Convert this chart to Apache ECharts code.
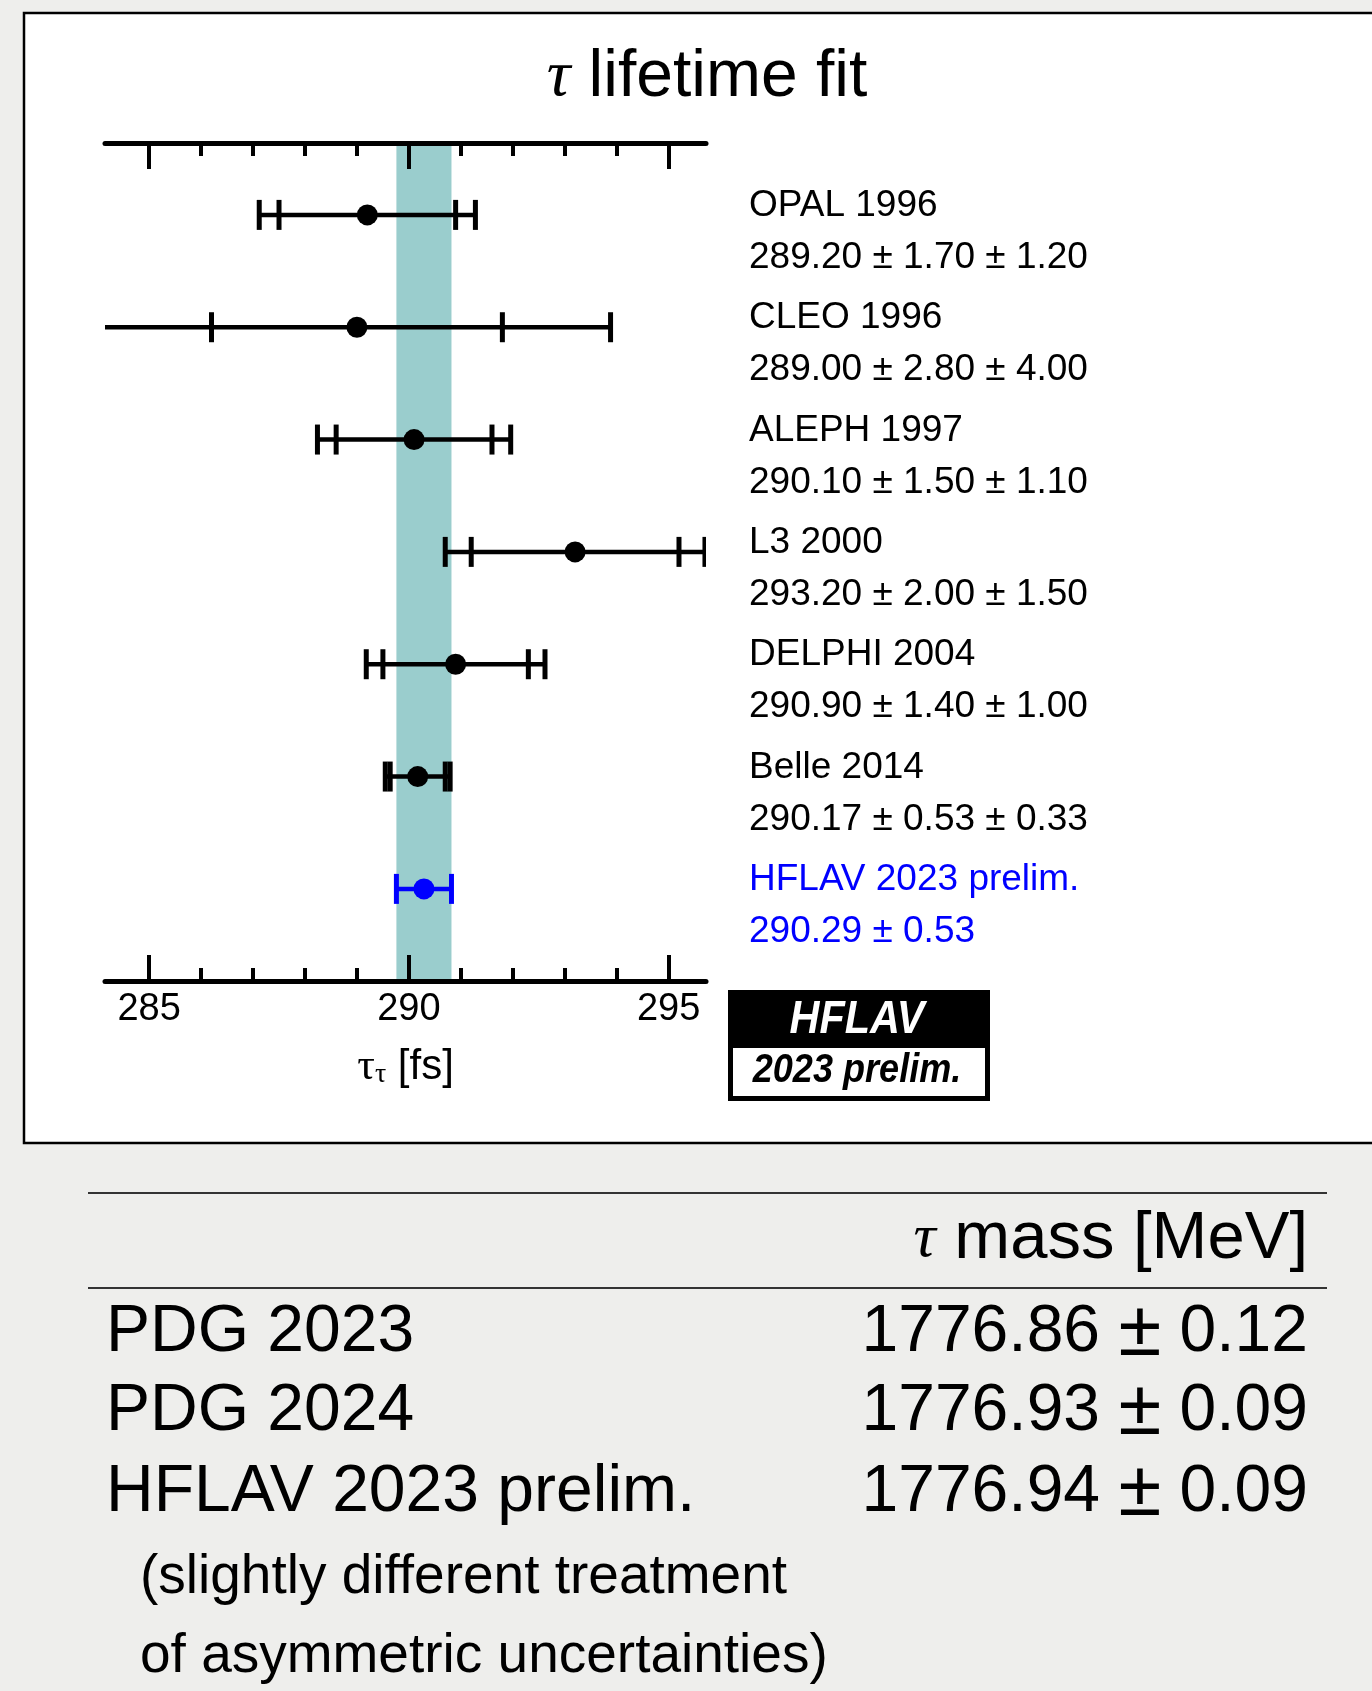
<!DOCTYPE html>
<html>
<head>
<meta charset="utf-8">
<script src="https://cdn.jsdelivr.net/npm/echarts@6/dist/echarts.min.js"></script>
<style>
  html, body { margin: 0; padding: 0; background: #eeeeec; }
  #chartmain { width: 1372px; height: 1691px; }
</style>
</head>
<body>
<div id="chartmain"></div>
<script>
// measurements (fs)
var experiments = ['OPAL 1996', 'CLEO 1996', 'ALEPH 1997', 'L3 2000', 'DELPHI 2004', 'Belle 2014', 'HFLAV 2023 prelim.'];
var lifetimes = [289.20, 289.00, 290.10, 293.20, 290.90, 290.17, 290.29];
var statErrors = [1.70, 2.80, 1.50, 2.00, 1.40, 0.53, 0.53];
var systErrors = [1.20, 4.00, 1.10, 1.50, 1.00, 0.33, null];
// fit result (band)
var fitValue = 290.29;
var fitError = 0.53;
// axis ticks
var majorTicks = [285, 290, 295];
var minorTicks = [286, 287, 288, 289, 291, 292, 293, 294];
// mass table
var massSources = ['PDG 2023', 'PDG 2024', 'HFLAV 2023 prelim.'];
var massValues = ['1776.86', '1776.93', '1776.94'];
var massErrors = ['0.12', '0.09', '0.09'];
var massNote = ['(slightly different treatment', 'of asymmetric uncertainties)'];

var SANS = "'Liberation Sans', Arial, Helvetica, sans-serif";
var SERIF = "'Liberation Serif', 'DejaVu Serif', serif";
var nRows = experiments.length;
var lastIdx = nRows - 1;
var axisMin = 284.15;
var axisMax = 295.72;

function totalError(i) {
    var s = statErrors[i], sy = systErrors[i];
    return sy == null ? s : Math.sqrt(s * s + sy * sy);
}

function valueText(i) {
    var t = lifetimes[i].toFixed(2) + ' ± ' + statErrors[i].toFixed(2);
    if (systErrors[i] != null) t += ' ± ' + systErrors[i].toFixed(2);
    return t;
}

function setChartMain() {
    var rowData = experiments.map(function (n, i) { return [lifetimes[i], nRows - i]; });

    function cap(api, x, row, color) {
        var p = api.coord([x, row]);
        return {
            type: 'line',
            shape: { x1: p[0], y1: p[1] - 15, x2: p[0], y2: p[1] + 15 },
            style: { stroke: color, lineWidth: 5 }
        };
    }

    function renderBar(params, api) {
        var i = params.dataIndex;
        var row = api.value(1);
        var v = lifetimes[i];
        var s = statErrors[i];
        var tot = totalError(i);
        var color = i === lastIdx ? '#0000ff' : '#000000';
        var lo = api.coord([v - tot, row]);
        var hi = api.coord([v + tot, row]);
        var c = api.coord([v, row]);
        var children = [{
            type: 'line',
            shape: { x1: lo[0], y1: lo[1], x2: hi[0], y2: hi[1] },
            style: { stroke: color, lineWidth: 4.5 }
        }];
        var capX = [v - s, v + s];
        if (systErrors[i] != null) capX.push(v - tot, v + tot);
        capX.forEach(function (x) {
            // no cap where the bar runs off the axis
            if (x >= axisMin && x <= axisMax) children.push(cap(api, x, row, color));
        });
        children.push({
            type: 'circle',
            shape: { cx: c[0], cy: c[1], r: 10.5 },
            style: { fill: color }
        });
        return { type: 'group', children: children };
    }

    function renderLabel(params, api) {
        var i = params.dataIndex;
        var row = api.value(1);
        var cs = params.coordSys;
        var y = api.coord([lifetimes[i], row])[1];
        var x = cs.x + cs.width + 43;
        var color = i === lastIdx ? '#0000ff' : '#000000';
        return {
            type: 'group',
            children: [{
                type: 'text',
                style: { text: experiments[i], x: x, y: y - 9, fill: color, fontSize: 37, fontFamily: SANS, align: 'left', verticalAlign: 'middle' }
            }, {
                type: 'text',
                style: { text: valueText(i), x: x, y: y + 43, fill: color, fontSize: 37, fontFamily: SANS, align: 'left', verticalAlign: 'middle' }
            }]
        };
    }

    function renderBand(params, api) {
        var cs = params.coordSys;
        var a = api.coord([fitValue - fitError, 0])[0];
        var b = api.coord([fitValue + fitError, 0])[0];
        return {
            type: 'rect',
            shape: { x: a, y: cs.y, width: b - a, height: cs.height },
            style: { fill: '#9acdcd' }
        };
    }

    var axisLineStyle = { show: true, lineStyle: { color: '#000', width: 5 } };

    function xAxisDef(pos, ticks, len, main, labels) {
        return {
            type: 'value',
            position: pos,
            min: axisMin,
            max: axisMax,
            z: 3,
            splitLine: { show: false },
            axisLine: main ? axisLineStyle : { show: false },
            axisTick: { show: true, inside: true, length: len, customValues: ticks, lineStyle: { color: '#000', width: 4 } },
            axisLabel: labels ? {
                show: true, customValues: majorTicks, margin: 10, color: '#000',
                fontSize: 38, fontFamily: SANS
            } : { show: false }
        };
    }

    var bottomMain = xAxisDef('bottom', majorTicks, 26, true, true);
    bottomMain.name = '{t|τ}{s|τ} [fs]';
    bottomMain.nameLocation = 'middle';
    bottomMain.nameGap = 64;
    bottomMain.nameTextStyle = {
        color: '#000', fontSize: 42, fontFamily: SANS,
        rich: {
            t: { fontSize: 44, fontFamily: SERIF, color: '#000' },
            s: { fontSize: 28, fontFamily: SERIF, color: '#000', padding: [16, 0, 0, 0] }
        }
    };

    var graphics = [
        // frame
        { type: 'rect', z: -10, shape: { x: 24, y: 13, width: 1400, height: 1130 }, style: { fill: '#ffffff', stroke: '#000', lineWidth: 2.5 } },
        // title
        { type: 'text', z: 50, style: {
            text: '{t|τ} lifetime fit', x: 707, y: 78, align: 'center', verticalAlign: 'middle',
            fontSize: 66, fontFamily: SANS, fill: '#000',
            rich: { t: { fontSize: 66, fontFamily: SERIF, fontStyle: 'italic', fill: '#000' } }
        } },
        // HFLAV logo
        { type: 'rect', z: 50, shape: { x: 728, y: 990, width: 262, height: 111 }, style: { fill: '#000' } },
        { type: 'rect', z: 51, shape: { x: 733, y: 1048, width: 252, height: 48 }, style: { fill: '#fff' } },
        { type: 'text', z: 52, x: 857, y: 1020, scaleX: 0.9, style: {
            text: 'HFLAV', x: 0, y: 0, align: 'center', verticalAlign: 'middle',
            fontSize: 46, fontWeight: 'bold', fontStyle: 'italic', fontFamily: SANS, fill: '#fff' } },
        { type: 'text', z: 52, x: 857, y: 1071, scaleX: 0.88, style: {
            text: '2023 prelim.', x: 0, y: 0, align: 'center', verticalAlign: 'middle',
            fontSize: 41, fontWeight: 'bold', fontStyle: 'italic', fontFamily: SANS, fill: '#000' } },
        // table rules
        { type: 'line', z: 50, shape: { x1: 88, y1: 1193, x2: 1327, y2: 1193 }, style: { stroke: '#333', lineWidth: 2 } },
        { type: 'line', z: 50, shape: { x1: 88, y1: 1288, x2: 1327, y2: 1288 }, style: { stroke: '#333', lineWidth: 2 } },
        { type: 'text', z: 50, style: {
            text: '{t|τ} mass [MeV]', x: 1308, y: 1240, align: 'right', verticalAlign: 'middle',
            fontSize: 67, fontFamily: SANS, fill: '#000',
            rich: { t: { fontSize: 62, fontFamily: SERIF, fontStyle: 'italic', fill: '#000' } }
        } }
    ];

    var rowY = [1333, 1412, 1493];
    massSources.forEach(function (name, k) {
        graphics.push({ type: 'text', z: 50, style: {
            text: name, x: 106, y: rowY[k], align: 'left', verticalAlign: 'middle',
            fontSize: 66, fontFamily: SANS, fill: '#000' } });
        graphics.push({ type: 'text', z: 50, style: {
            text: massValues[k] + ' {pm|±} ' + massErrors[k], x: 1308, y: rowY[k], align: 'right', verticalAlign: 'middle',
            fontSize: 66, fontFamily: SANS, fill: '#000',
            rich: { pm: { fontSize: 78, fontFamily: SANS, fill: '#000' } } } });
    });
    massNote.forEach(function (line, k) {
        graphics.push({ type: 'text', z: 50, style: {
            text: line, x: 140, y: 1578 + k * 79, align: 'left', verticalAlign: 'middle',
            fontSize: 55, fontFamily: SANS, fill: '#000' } });
    });

    var option = {
        animation: false,
        backgroundColor: 'transparent',
        grid: { left: 105, right: 666, top: 143, bottom: 710 },
        xAxis: [
            bottomMain,
            xAxisDef('bottom', minorTicks, 13, false, false),
            xAxisDef('top', majorTicks, 26, true, false),
            xAxisDef('top', minorTicks, 13, false, false)
        ],
        yAxis: { type: 'value', min: 0.18, max: 7.64, show: false },
        graphic: graphics,
        series: [{
            type: 'custom',
            name: 'band',
            z: 1,
            renderItem: renderBand,
            data: [[fitValue, 0]]
        }, {
            type: 'custom',
            name: 'measurements',
            z: 4,
            clip: true,
            renderItem: renderBar,
            data: rowData
        }, {
            type: 'custom',
            name: 'labels',
            z: 4,
            clip: false,
            renderItem: renderLabel,
            data: rowData
        }]
    };
    var myChart = echarts.init(document.getElementById('chartmain'));
    myChart.setOption(option);
}
setChartMain();
</script>
</body>
</html>
